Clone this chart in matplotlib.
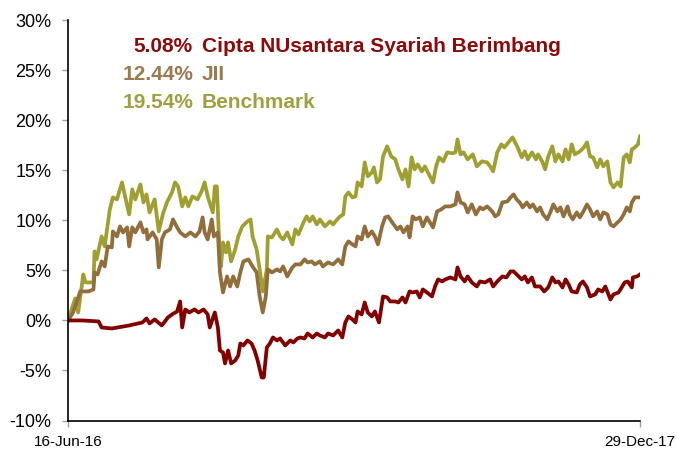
import matplotlib
matplotlib.use('agg')
import matplotlib.pyplot as plt
import matplotlib.dates as mdates
import numpy as np
import pandas as pd

plt.rcParams['font.family'] = ['Liberation Sans', 'DejaVu Sans']

start = pd.Timestamp('2016-06-16')
end = pd.Timestamp('2017-12-29')

# days since 16-Jun-16 and cumulative return (%)
bench_days = [0, 7, 10, 15, 17, 25, 26, 28, 33, 36, 41, 44, 48, 53, 56, 60, 63, 66, 71, 74, 77, 80, 85, 89, 93, 97,
              102, 105, 108, 112, 115, 118, 122, 127, 131, 134, 137, 142, 144, 146, 148, 150, 152, 155, 157, 160, 164,
              167, 171, 176, 179, 181, 185, 188, 191, 195, 196, 200, 205, 208, 211, 215, 220, 223, 226, 231, 234, 237,
              240, 244, 247, 252, 257, 260, 264, 267, 270, 272, 275, 279, 282, 284, 288, 291, 294, 298, 300, 303, 306,
              309, 313, 317, 321, 324, 328, 331, 334, 337, 340, 343, 347, 350, 355, 358, 361, 364, 368, 372, 377, 380,
              382, 385, 388, 392, 397, 401, 406, 411, 414, 417, 421, 425, 428, 432, 436, 437, 441, 445, 448, 451, 455,
              459, 461, 465, 468, 471, 475, 478, 481, 485, 488, 491, 494, 497, 502, 506, 509, 512, 515, 519, 522, 525,
              529, 532, 535, 539, 542, 545, 548, 551, 553, 556, 559, 561]
bench_pct = [0.0, 2.2, 0.8, 4.6, 3.8, 3.8, 6.9, 6.1, 8.4, 7.4, 11.1, 12.3, 12.1, 13.8, 12.4, 10.6, 13.1, 12.1, 13.6, 11.8,
             12.6, 10.8, 12.1, 8.9, 10.6, 11.8, 12.8, 13.8, 13.4, 11.4, 12.3, 11.4, 12.4, 12.1, 12.9, 13.8, 12.4, 10.8,
             13.4, 13.4, 8.4, 5.4, 7.8, 6.8, 7.8, 5.9, 7.1, 8.4, 9.4, 9.9, 10.1, 8.4, 7.1, 5.1, 2.9, 5.1, 8.4, 8.3, 9.1,
             8.4, 8.1, 8.8, 7.6, 9.1, 8.6, 9.8, 10.4, 9.9, 10.4, 9.6, 10.1, 9.4, 9.9, 9.6, 10.1, 10.4, 10.6, 12.4, 12.8,
             12.3, 12.4, 13.8, 13.4, 15.8, 14.4, 14.8, 15.3, 13.8, 14.1, 16.4, 17.4, 16.4, 16.1, 15.1, 14.1, 15.1, 13.4,
             16.3, 15.1, 15.6, 14.9, 15.4, 14.4, 13.8, 15.4, 16.3, 15.9, 16.8, 16.7, 16.8, 18.1, 16.6, 16.8, 16.1, 16.6,
             15.4, 15.9, 15.8, 15.4, 14.9, 16.8, 17.6, 17.3, 17.8, 18.3, 18.1, 17.3, 16.3, 16.9, 16.1, 16.8, 16.1, 16.6,
             15.9, 15.1, 16.4, 17.4, 15.9, 16.6, 15.9, 17.1, 16.1, 17.6, 16.6, 16.9, 17.3, 17.8, 16.4, 16.3, 15.3, 16.1,
             15.4, 15.9, 13.8, 13.3, 13.8, 13.4, 16.3, 16.6, 15.8, 17.1, 17.3, 17.6, 18.4]

jii_days = [0, 5, 12, 20, 25, 26, 29, 33, 36, 39, 43, 44, 48, 51, 54, 58, 60, 63, 66, 71, 74, 77, 78, 83, 87, 89, 92,
            95, 100, 103, 107, 110, 115, 120, 125, 129, 132, 134, 137, 141, 143, 147, 149, 152, 156, 159, 162, 166, 169,
            172, 177, 181, 185, 188, 191, 194, 196, 200, 205, 208, 211, 215, 220, 223, 228, 232, 235, 239, 242, 247,
            250, 255, 260, 265, 269, 272, 275, 279, 282, 284, 288, 291, 294, 298, 301, 304, 308, 311, 314, 318, 323,
            326, 329, 333, 335, 338, 341, 345, 348, 352, 355, 358, 362, 366, 370, 375, 380, 382, 385, 389, 392, 396,
            400, 404, 407, 411, 416, 419, 422, 426, 431, 434, 437, 440, 443, 446, 450, 453, 456, 460, 463, 466, 470,
            473, 476, 480, 483, 486, 490, 492, 495, 499, 502, 505, 509, 512, 515, 519, 522, 525, 529, 532, 535, 539,
            542, 545, 548, 551, 553, 556, 561]
jii_pct = [0.0, 0.8, 2.9, 2.9, 3.1, 4.8, 4.6, 5.9, 5.4, 7.4, 7.3, 8.9, 8.4, 9.4, 8.8, 9.3, 7.4, 9.3, 8.8, 9.8, 8.8, 9.1,
           8.1, 8.8, 8.1, 5.3, 8.1, 8.8, 9.1, 10.1, 9.3, 8.8, 8.4, 8.8, 8.4, 8.9, 10.3, 8.8, 8.1, 10.1, 8.4, 8.8, 4.8,
           2.8, 4.4, 3.4, 4.4, 3.4, 4.8, 5.9, 6.1, 5.4, 4.8, 2.4, 0.8, 2.4, 5.1, 4.8, 5.1, 4.9, 5.4, 4.4, 5.3, 5.6, 5.6,
           6.1, 5.8, 5.9, 5.6, 5.9, 5.4, 5.8, 5.6, 6.1, 5.6, 7.4, 7.9, 7.6, 7.4, 8.4, 8.1, 9.4, 8.4, 8.9, 8.4, 7.6, 9.4,
           10.3, 10.4, 9.8, 9.1, 9.4, 8.8, 9.4, 8.3, 10.4, 10.1, 10.3, 9.4, 10.3, 9.8, 9.3, 10.9, 11.1, 11.4, 11.4,
           11.6, 12.8, 11.8, 11.6, 10.8, 11.6, 10.6, 11.3, 11.1, 11.4, 10.9, 10.4, 10.6, 11.8, 11.9, 12.3, 12.6, 12.1,
           11.8, 11.3, 11.8, 11.3, 11.6, 10.9, 11.3, 10.6, 10.1, 10.8, 11.6, 10.9, 11.3, 10.4, 11.4, 10.6, 10.1, 10.8,
           10.3, 10.8, 11.6, 11.1, 10.4, 10.9, 10.1, 10.8, 10.6, 9.6, 9.4, 9.8, 10.1, 10.6, 11.3, 10.9, 11.8, 12.3, 12.3]

cipta_days = [0, 14, 30, 33, 43, 60, 73, 77, 80, 85, 92, 98, 102, 107, 110, 112, 115, 119, 124, 128, 133, 137, 139,
              144, 147, 149, 152, 154, 157, 160, 164, 167, 169, 172, 176, 180, 183, 186, 190, 192, 195, 198, 201, 205,
              208, 213, 218, 221, 225, 228, 232, 235, 240, 244, 247, 252, 255, 260, 265, 269, 272, 275, 279, 282, 284,
              288, 291, 294, 298, 301, 305, 309, 313, 316, 321, 324, 328, 331, 335, 338, 342, 345, 348, 352, 357, 360,
              363, 367, 370, 375, 380, 382, 385, 389, 392, 396, 401, 404, 409, 414, 417, 421, 426, 430, 434, 437, 440,
              445, 448, 451, 455, 458, 463, 467, 471, 475, 478, 481, 485, 488, 491, 494, 499, 502, 505, 509, 512, 517,
              520, 524, 527, 532, 535, 540, 543, 546, 549, 553, 554, 558, 561]
cipta_pct = [0.0, 0.0, -0.1, -0.7, -0.8, -0.5, -0.2, 0.2, -0.3, 0.1, -0.5, 0.3, 0.6, 0.9, 1.9, -0.7, 1.1, 0.8, 1.1, 0.8,
             1.1, 0.6, -0.7, 0.8, -0.7, -3.0, -3.2, -4.3, -3.0, -4.3, -4.0, -3.5, -2.3, -2.5, -2.0, -2.3, -3.0, -4.0,
             -5.7, -5.7, -2.7, -2.3, -1.7, -2.0, -1.8, -2.5, -2.0, -2.2, -1.8, -1.7, -1.8, -1.3, -1.7, -1.3, -1.5, -1.7,
             -1.3, -1.5, -1.0, -1.7, -0.2, 0.4, 0.1, -0.2, 0.9, 0.6, 1.8, 0.8, 0.4, 0.9, -0.2, 2.4, 2.3, 1.9, 1.9, 1.8,
             2.3, 1.8, 2.9, 2.8, 2.9, 2.3, 3.1, 2.8, 2.4, 3.4, 4.1, 3.9, 4.1, 4.3, 4.1, 5.3, 4.4, 3.9, 4.4, 3.8, 3.4,
             3.9, 3.8, 4.1, 3.4, 3.9, 4.4, 4.3, 4.9, 4.9, 4.6, 4.1, 4.4, 3.8, 4.3, 3.4, 3.4, 2.9, 3.3, 4.3, 3.8, 3.9,
             3.3, 4.1, 3.6, 2.9, 2.8, 3.6, 3.9, 3.3, 2.4, 2.6, 3.1, 2.9, 3.4, 2.1, 2.6, 2.8, 3.3, 3.8, 3.9, 3.3, 4.3,
             4.4, 4.6]

labels_pct = ['5.08%', '12.44%', '19.54%']
labels_name = ['Cipta NUsantara Syariah Berimbang', 'JII', 'Benchmark']

c_cipta, c_jii, c_bench = '#820000', '#916E3C', '#A0A032'
t_cipta, t_jii, t_bench = '#8B0A0A', '#9A7B50', '#A0A040'


def to_dates(days):
    return start + pd.to_timedelta(np.array(days), unit='D')


fig = plt.figure(figsize=(6.77, 4.53), dpi=100)
ax = fig.add_axes([68 / 677, 1 - 420.5 / 453, (640 - 68) / 677, 400.2 / 453])

ax.plot(to_dates(bench_days), bench_pct, color=c_bench, lw=2.7, solid_joinstyle='round')
ax.plot(to_dates(jii_days), jii_pct, color=c_jii, lw=2.7, solid_joinstyle='round')
ax.plot(to_dates(cipta_days), cipta_pct, color=c_cipta, lw=2.7, solid_joinstyle='round')

ax.set_xlim(start, end)
ax.set_ylim(-10, 30)
ax.set_yticks(np.arange(-10, 31, 5))
ax.yaxis.set_major_formatter(matplotlib.ticker.FuncFormatter(lambda v, p: '%d%%' % v))
ax.set_xticks([start, end])
ax.xaxis.set_major_formatter(mdates.DateFormatter('%d-%b-%y'))

for s in ['top', 'right']:
    ax.spines[s].set_visible(False)
for s in ['left', 'bottom']:
    ax.spines[s].set_color('black')
    ax.spines[s].set_linewidth(1.2)

ax.tick_params(axis='y', length=4, width=1, color='#a0a0a0', pad=8, labelsize=13)
ax.tick_params(axis='x', length=4, width=1, color='#a0a0a0', pad=6.5, labelsize=11)

cols = [t_cipta, t_jii, t_bench]
for i in range(3):
    yb = 1 - (52.3 + 28 * i) / 453
    fig.text(193 / 677, yb, labels_pct[i], ha='right', va='baseline', fontsize=15,
             fontweight='bold', color=cols[i])
    fig.text(202 / 677, yb, labels_name[i], ha='left', va='baseline', fontsize=15,
             fontweight='bold', color=cols[i])

fig.savefig('out.png', dpi=100)
